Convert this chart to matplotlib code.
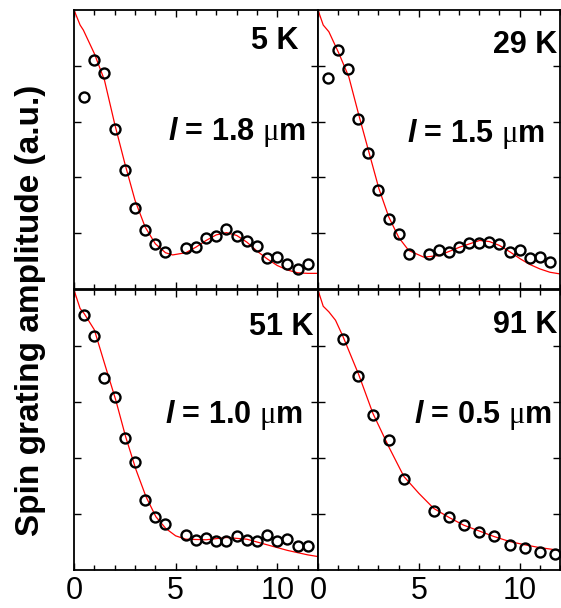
import numpy as np
import matplotlib
matplotlib.use('Agg')
import matplotlib.pyplot as plt
from matplotlib.ticker import MultipleLocator

plt.rcParams['font.family'] = ['Liberation Sans', 'DejaVu Sans']
plt.rcParams['mathtext.fontset'] = 'custom'
plt.rcParams['mathtext.it'] = 'Liberation Sans:italic:bold'
plt.rcParams['mathtext.rm'] = 'Liberation Serif'

# measured data (x in um, amplitude in a.u.)
x_a = [0.5, 1.0, 1.5, 2.0, 2.5, 3.0, 3.5, 4.0, 4.5,
       5.5, 6.0, 6.5, 7.0, 7.5, 8.0, 8.5, 9.0, 9.5, 10.0, 10.5, 11.0, 11.5]
y_5k = [3.44, 4.11, 3.87, 2.87, 2.13, 1.46, 1.05, 0.81, 0.66,
        0.73, 0.75, 0.92, 0.95, 1.07, 0.95, 0.86, 0.77, 0.55, 0.58, 0.45, 0.36, 0.44]
y_29k = [3.78, 4.28, 3.94, 3.04, 2.43, 1.78, 1.25, 0.98, 0.63,
         0.63, 0.70, 0.66, 0.75, 0.83, 0.83, 0.85, 0.81, 0.66, 0.70, 0.56, 0.57, 0.49]
y_51k = [4.56, 4.17, 3.43, 3.09, 2.36, 1.93, 1.25, 0.94, 0.82,
         0.63, 0.53, 0.58, 0.51, 0.52, 0.60, 0.53, 0.52, 0.63, 0.52, 0.55, 0.43, 0.43]
x_91k = [1.25, 2.0, 2.75, 3.5, 4.25, 5.75, 6.5, 7.25, 8.0, 8.75, 9.5, 10.25, 11.0, 11.75]
y_91k = [4.12, 3.46, 2.77, 2.32, 1.63, 1.06, 0.95, 0.80, 0.68, 0.61, 0.44, 0.40, 0.33, 0.29]

# fit curves
fx_5k = [0, 0.3, 0.46, 1.0, 1.5, 2.0, 2.5, 3.0, 3.5, 4.0, 4.5, 4.85, 5.5, 6.0, 6.5,
         7.0, 7.5, 8.0, 8.5, 9.0, 9.5, 10.0, 10.5, 11.0, 11.5, 12.0]
fy_5k = [5.0, 4.73, 4.64, 4.22, 3.74, 2.96, 2.25, 1.59, 1.11, 0.81, 0.65, 0.61, 0.65, 0.75, 0.87,
         0.97, 1.01, 0.96, 0.84, 0.68, 0.54, 0.42, 0.34, 0.29, 0.28, 0.28]
fx_29k = [0, 0.26, 0.54, 1.04, 1.53, 2.03, 2.52, 3.02, 3.51, 4.01, 4.5, 5.25, 6.0, 7.03,
          8.02, 8.5, 9.0, 9.54, 10.03, 10.5, 11.0, 11.5, 12.0]
fy_29k = [5.0, 4.73, 4.61, 4.22, 3.80, 3.11, 2.46, 1.80, 1.29, 0.92, 0.69, 0.57, 0.60, 0.75,
          0.87, 0.85, 0.78, 0.66, 0.54, 0.44, 0.36, 0.30, 0.27]
fx_51k = [0, 0.3, 0.5, 1.0, 1.5, 2.05, 2.54, 3.05, 3.54, 4.03, 4.52, 5.0, 5.5, 6.5, 7.5,
          8.5, 9.5, 10.5, 11.5, 12.0]
fy_51k = [5.0, 4.67, 4.58, 4.29, 3.69, 3.04, 2.38, 1.79, 1.31, 0.95, 0.74, 0.61, 0.55, 0.54, 0.58,
          0.55, 0.45, 0.35, 0.27, 0.24]
fx_91k = [0, 0.26, 0.54, 0.87, 1.24, 2.03, 2.72, 3.51, 4.26, 5.0, 5.74, 6.49, 7.23, 7.97,
          8.71, 9.49, 10.25, 10.99, 12.0]
fy_91k = [5.0, 4.71, 4.61, 4.46, 4.17, 3.48, 2.80, 2.20, 1.67, 1.37, 1.10, 0.94, 0.80, 0.70,
          0.60, 0.51, 0.45, 0.40, 0.35]

temps = ['5 K', '29 K', '51 K', '91 K']
lengths = [r'$\mathit{l}$ = 1.8 $\mathrm{\mu}$m', r'$\mathit{l}$ = 1.5 $\mathrm{\mu}$m',
           r'$\mathit{l}$ = 1.0 $\mathrm{\mu}$m', r'$\mathit{l}$ = 0.5 $\mathrm{\mu}$m']

panels = [
    (x_a, y_5k, fx_5k, fy_5k),
    (x_a, y_29k, fx_29k, fy_29k),
    (x_a, y_51k, fx_51k, fy_51k),
    (x_91k, y_91k, fx_91k, fy_91k),
]
rects = [
    [0.1319, 0.5247, 0.4349, 0.4589],
    [0.5668, 0.5247, 0.4314, 0.4589],
    [0.1319, 0.0625, 0.4349, 0.4605],
    [0.5668, 0.0625, 0.4314, 0.4605],
]
temp_pos = [(0.922, 0.86), (0.99, 0.846), (0.98, 0.839), (0.99, 0.846)]
len_pos = [(0.951, 0.534), (0.938, 0.527), (0.939, 0.525), (0.967, 0.525)]

fig = plt.figure(figsize=(5.61, 6.08), dpi=100)
for i, (px, py, fx, fy) in enumerate(panels):
    ax = fig.add_axes(rects[i])
    ax.plot(fx, fy, color='red', lw=0.9, zorder=2)
    ax.plot(px, py, 'o', mfc='none', mec='black', ms=7.2, mew=1.7, zorder=3)
    ax.set_xlim(0, 12)
    ax.set_ylim(0, 5)
    ax.xaxis.set_major_locator(MultipleLocator(5))
    ax.xaxis.set_minor_locator(MultipleLocator(1))
    ax.set_yticks([1, 2, 3, 4])
    ax.tick_params(which='both', direction='in', top=True, right=True, width=1.0, color='black')
    ax.tick_params(which='major', length=5)
    ax.tick_params(which='minor', length=3.5)
    ax.set_yticklabels([])
    if i < 2:
        ax.set_xticklabels([])
    else:
        ax.tick_params(axis='x', labelsize=22, pad=4)
    for s in ax.spines.values():
        s.set_linewidth(1.3)
    ax.text(temp_pos[i][0], temp_pos[i][1], temps[i], transform=ax.transAxes,
            ha='right', va='baseline', fontsize=22, fontweight='bold')
    ax.text(len_pos[i][0], len_pos[i][1], lengths[i], transform=ax.transAxes,
            ha='right', va='baseline', fontsize=22, fontweight='bold')

fig.text(0.055, 0.49, 'Spin grating amplitude (a.u.)', rotation=90,
         ha='center', va='center', fontsize=24, fontweight='bold')

fig.savefig('out.png', dpi=100)
